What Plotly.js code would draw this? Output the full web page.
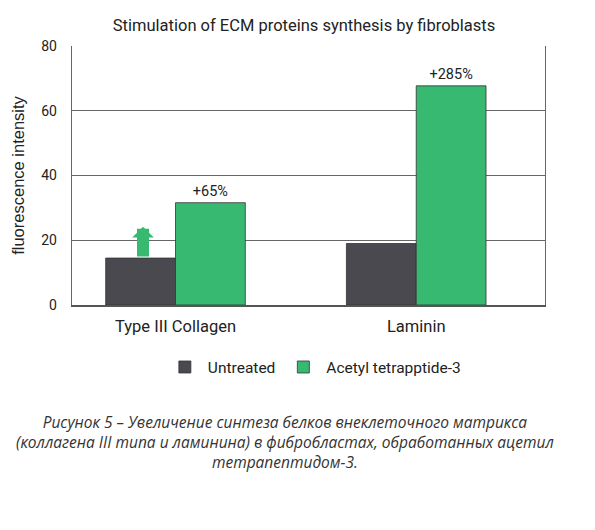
<!DOCTYPE html>
<html>
<head>
<meta charset="utf-8">
<script src="https://cdn.plot.ly/plotly-3.0.1.min.js"></script>
<style>html,body{margin:0;padding:0;background:#fff;}#chart{width:595px;height:530px;}</style>
</head>
<body>
<div id="chart"></div>
<script>
const categories = ["Type III Collagen", "Laminin"];
const seriesNames = ["Untreated", "Acetyl tetrapptide-3"];
const untreated = [14.5, 19.0];
const treated = [31.6, 67.7];
const increaseLabels = ["+65%", "+285%"];
const yTicks = [0, 20, 40, 60, 80];
const arrowTop = 24.2;
const caption = "Рисунок 5 – Увеличение синтеза белков внеклеточного матрикса<br>(коллагена III типа и ламинина) в фибробластах, обработанных ацетил<br>тетрапептидом-3.";

const colUntreated = "#4a494f";
const colTreated = "#38b972";

const traces = [
  {type: "bar", name: seriesNames[0], x: categories, y: untreated,
   marker: {color: colUntreated, line: {color: "#333", width: 0.8}}},
  {type: "bar", name: seriesNames[1], x: categories, y: treated,
   text: increaseLabels, textposition: "outside", cliponaxis: false,
   textfont: {family: "Roboto, sans-serif", size: 14.5, color: "#222"},
   marker: {color: colTreated, line: {color: "#333", width: 0.8}}}
];

const layout = {
  width: 595, height: 530,
  paper_bgcolor: "#fff", plot_bgcolor: "#fff",
  margin: {l: 72, r: 50, t: 46, b: 225},
  font: {family: "Roboto, sans-serif", color: "#222", size: 15},
  title: {text: "Stimulation of ECM proteins synthesis by fibroblasts",
          x: 0.511, xanchor: "center", y: 0.953, yanchor: "middle",
          font: {family: "Roboto, sans-serif", size: 16.5, color: "#222"}},
  barmode: "group", bargap: 0.42, bargroupgap: 0,
  xaxis: {type: "category", range: [-0.43, 1.535], showgrid: false,
          showline: true, linecolor: "#555", linewidth: 1.5, mirror: false,
          ticks: "", ticklabelstandoff: 6, tickfont: {size: 16.5, color: "#222"}, zeroline: false},
  yaxis: {range: [0, 80], tickvals: yTicks, showgrid: true, gridcolor: "#666", gridwidth: 1.3,
          showline: true, linecolor: "#666", linewidth: 1.3, mirror: true,
          ticks: "", ticklabelstandoff: 11, tickfont: {size: 14, color: "#222"}, zeroline: false,
          title: {text: "fluorescence intensity", standoff: 12,
                  font: {family: "'Liberation Sans', Arial, sans-serif", size: 16.5, color: "#222"}}},
  legend: {orientation: "h", x: 0.19, xanchor: "left", y: -0.241, yanchor: "middle",
           font: {size: 15.5, color: "#222"}, itemwidth: 36,
           traceorder: "normal"},
  annotations: [
    {xref: "x", yref: "y", axref: "x", ayref: "y",
     x: -0.135, y: arrowTop, ax: -0.135, ay: untreated[0],
     text: "", showarrow: true, arrowhead: 1, arrowsize: 0.3, arrowwidth: 12,
     arrowcolor: colTreated, standoff: 0, startstandoff: 0},
    {xref: "paper", yref: "paper", x: 0.45, y: -0.40, xanchor: "center", yanchor: "top",
     text: caption, showarrow: false, align: "center",
     font: {family: "'Open Sans', sans-serif", size: 15.5, color: "#333", style: "italic"}}
  ]
};

Plotly.newPlot("chart", traces, layout, {displayModeBar: false, staticPlot: true});
</script>
</body>
</html>
